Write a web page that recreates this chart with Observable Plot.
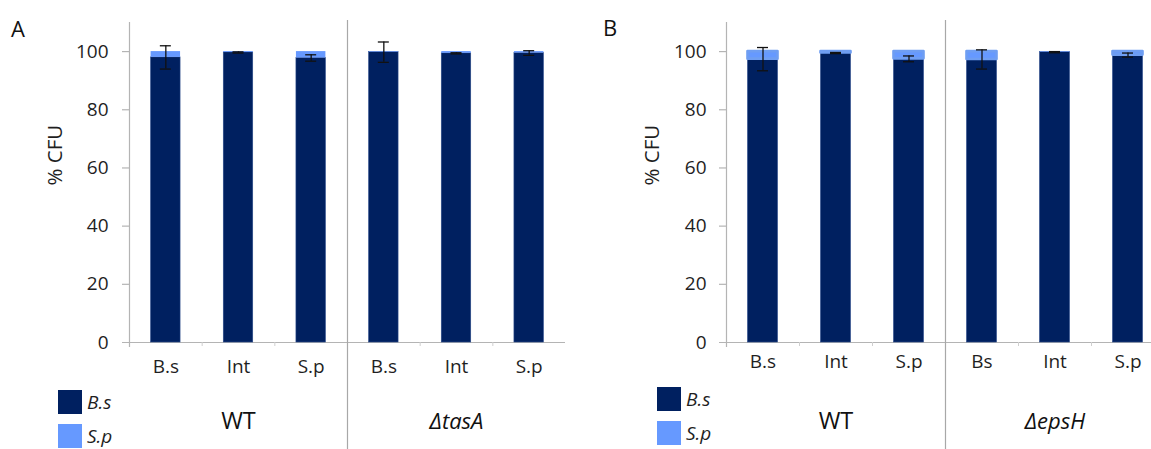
<!DOCTYPE html>
<html><head><meta charset="utf-8">
<script src="https://cdn.jsdelivr.net/npm/d3@7"></script>
<script src="https://cdn.jsdelivr.net/npm/@observablehq/plot@0.6"></script>
<style>
html,body{margin:0;padding:0;background:#fff;overflow:hidden;}
#root{position:relative;width:1151px;height:449px;font-family:"Open Sans",sans-serif;color:#1f1f1f;overflow:hidden;}
.panel{position:absolute;top:0;}
.letter{position:absolute;font-size:22px;line-height:1;color:#111;}
.legend{position:absolute;font-style:italic;}
.lg-swatches{margin:0 !important;}
.lg-swatch{padding-bottom:8px !important;}
.lg-swatch:last-child{padding-bottom:0 !important;}
.lg-swatch > svg{margin-right:5px !important;}
.lg-swatch > div{overflow:visible !important;}
</style></head>
<body><div id="root"></div>
<script>
// ---------- data ----------
const seriesNames = ["B.s", "S.p"];
const seriesColors = ["#002060", "#6699FF"];
const yTicks = [0, 20, 40, 60, 80, 100];

const strainsA = ["WT", "ΔtasA"];
const barStrainA = ["WT", "WT", "WT", "ΔtasA", "ΔtasA", "ΔtasA"];
const categoriesA = ["B.s", "Int", "S.p", "B.s", "Int", "S.p"];
const bsA = [98.0, 99.7, 97.8, 99.8, 99.4, 99.5];
const spA = [2.0, 0.3, 2.2, 0.2, 0.6, 0.5];
const errA = [4.0, 0.2, 1.1, 3.5, 0.2, 0.8];

const strainsB = ["WT", "ΔepsH"];
const barStrainB = ["WT", "WT", "WT", "ΔepsH", "ΔepsH", "ΔepsH"];
const categoriesB = ["B.s", "Int", "S.p", "Bs", "Int", "S.p"];
const bsB = [97.4, 99.5, 97.5, 97.3, 99.8, 98.8];
const spB = [2.6, 0.5, 2.5, 2.7, 0.2, 1.2];
const errB = [4.0, 0.2, 1.0, 3.3, 0.2, 0.7];

// ---------- drawing ----------
const axisGray = "#b4b4b4";
const sepGray = "#a8a8a8";
const textColor = "#1f1f1f";

function panel(cfg) {
  const {strains, barStrain, categories, bs, sp, err, width, marginLeft, marginRight,
         catDy, tickDx, glow, inset} = cfg;
  const bars = categories.map((c, i) => ({i, xc: i + 0.5, cat: c, strain: barStrain[i],
    bs: bs[i], sp: sp[i], err: err[i]}));
  const segBs = bars.map(b => ({x1: b.i, x2: b.i + 1, y1: 0, y2: b.bs, series: seriesNames[0]}));
  const segSp = bars.map(b => ({x1: b.i, x2: b.i + 1, y1: b.bs, y2: b.bs + b.sp, series: seriesNames[1],
    big: b.sp >= 0.4}));
  const groups = strains.map(s => ({strain: s,
    xc: d3.mean(bars.filter(b => b.strain === s), b => b.xc)}));
  const minor = d3.range(1, categories.length).filter(k => barStrain[k] === barStrain[k - 1]);
  const seps = d3.range(1, categories.length).filter(k => barStrain[k] !== barStrain[k - 1]);

  return Plot.plot({
    width, height: 449,
    marginTop: 22, marginBottom: 107, marginLeft, marginRight,
    x: {domain: [0, categories.length], axis: null},
    y: {domain: [0, 110], axis: null},
    color: {domain: seriesNames, range: seriesColors},
    style: {fontFamily: "'Open Sans', sans-serif", fontSize: "18.5px", maxWidth: "none",
            overflow: "visible", background: "transparent", color: textColor},
    marks: [
      // axes lines
      Plot.ruleY([0], {stroke: axisGray, strokeWidth: 1.2, insetLeft: -7}),
      Plot.ruleX([0], {stroke: axisGray, strokeWidth: 1.2, insetBottom: -5}),
      Plot.ruleY(yTicks.filter(t => t > 0), {y: d => d, x1: 0, x2: 0, insetLeft: -7,
        stroke: axisGray, strokeWidth: 1.2}),
      Plot.ruleX(minor, {y1: 0, y2: 0, insetBottom: -4, stroke: "#cfcfcf"}),
      Plot.ruleX(seps, {stroke: sepGray, strokeWidth: 1.2, insetTop: -2, insetBottom: -107}),
      // bars
      Plot.rect(segBs, {x1: "x1", x2: "x2", y1: "y1", y2: "y2", fill: "series",
        insetLeft: inset, insetRight: inset, stroke: "#2a4a8a", strokeWidth: 0.6}),
      Plot.rect(segSp, {x1: "x1", x2: "x2", y1: "y1", y2: "y2", fill: "series",
        insetLeft: inset, insetRight: inset}),
      ...(glow ? [Plot.rect(segSp.filter(d => d.big), {x1: "x1", x2: "x2", y1: "y1", y2: "y2",
        fill: "series", insetLeft: inset, insetRight: inset,
        stroke: "#6f9ef2", strokeWidth: 2.6, strokeLinejoin: "round"})] : []),
      // error bars
      Plot.ruleX(bars, {x: "xc", y1: d => d.bs - d.err, y2: d => d.bs + d.err,
        stroke: "#111", strokeWidth: 1.3}),
      Plot.ruleY(bars, {y: d => d.bs + d.err, x1: "xc", x2: "xc", insetLeft: -5.5, insetRight: -5.5,
        stroke: "#111", strokeWidth: 1.3}),
      Plot.ruleY(bars, {y: d => d.bs - d.err, x1: "xc", x2: "xc", insetLeft: -5.5, insetRight: -5.5,
        stroke: "#111", strokeWidth: 1.3}),
      // y tick labels
      Plot.text(yTicks, {y: d => d, text: d => String(d), frameAnchor: "left", textAnchor: "end",
        dx: tickDx, fontSize: 19, fill: textColor}),
      // y label
      Plot.text(["% CFU"], {text: d => d, frameAnchor: "left", rotate: -90, dx: -74, dy: 3,
        fontSize: 20.5, fill: textColor}),
      // category labels
      Plot.text(bars, {x: "xc", text: "cat", frameAnchor: "bottom", dy: catDy,
        fontSize: 19, fill: textColor}),
      // strain labels
      Plot.text(groups.filter(g => !g.strain.startsWith("Δ")), {x: "xc", text: "strain",
        frameAnchor: "bottom", dy: 86, fontSize: 23.5, fill: "#111"}),
      Plot.text(groups.filter(g => g.strain.startsWith("Δ")), {x: "xc", text: "strain",
        frameAnchor: "bottom", dy: 86, fontSize: 22, fontStyle: "italic", fill: "#111"})
    ]
  });
}

function legend() {
  return Plot.legend({
    color: {domain: seriesNames, range: seriesColors},
    legend: "swatches", columns: 1, swatchSize: 24, className: "lg",
    style: {fontFamily: "'Open Sans', sans-serif", fontSize: "19px", color: textColor}
  });
}

const root = document.getElementById("root");
function place(node, cls, left, top) {
  const d = document.createElement("div");
  d.className = cls;
  d.style.left = left + "px";
  d.style.top = top + "px";
  d.appendChild(node);
  root.appendChild(d);
  return d;
}

place(panel({strains: strainsA, barStrain: barStrainA, categories: categoriesA, bs: bsA, sp: spA,
  err: errA, width: 580, marginLeft: 129, marginRight: 15, catDy: 30, tickDx: -21, glow: false,
  inset: 21.6}), "panel", 0, 0);
place(panel({strains: strainsB, barStrain: barStrainB, categories: categoriesB, bs: bsB, sp: spB,
  err: errB, width: 584, marginLeft: 146, marginRight: 0, catDy: 25, tickDx: -20, glow: true,
  inset: 21.5}), "panel", 580, 0);

place(legend(), "legend", 58, 389);
place(legend(), "legend", 657, 386);

place(document.createTextNode("A"), "letter", 11, 17);
place(document.createTextNode("B"), "letter", 603, 16);
</script>
</body></html>
